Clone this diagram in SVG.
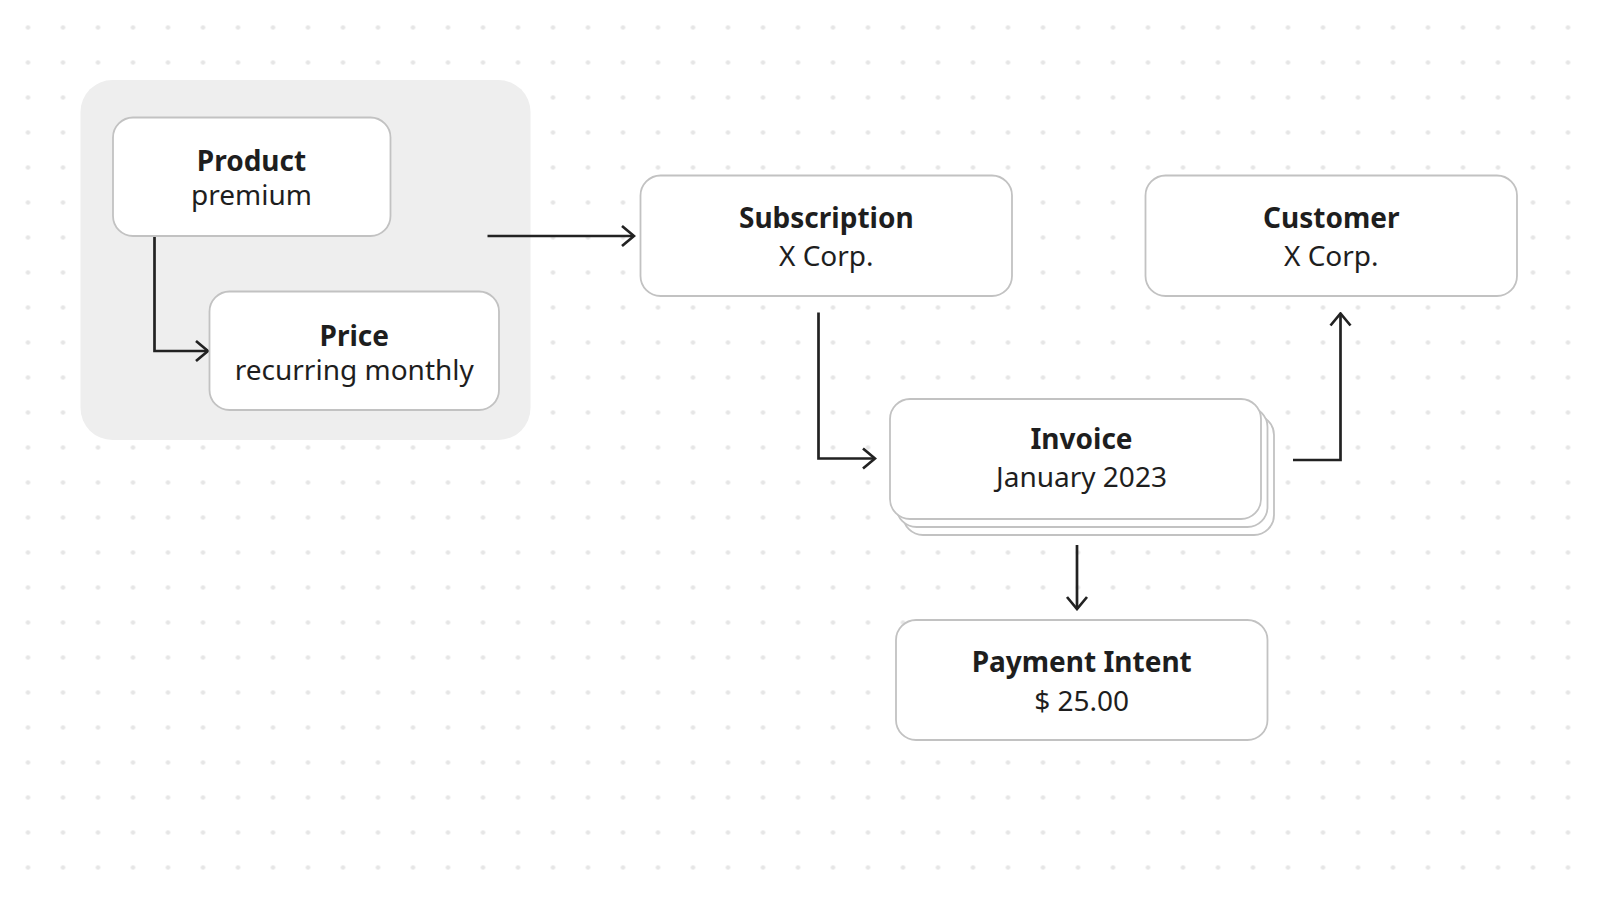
<svg xmlns="http://www.w3.org/2000/svg" width="1600" height="900" viewBox="0 0 1600 900">
  <defs>
    <pattern id="dots" patternUnits="userSpaceOnUse" x="10.5" y="10" width="35" height="35">
      <circle cx="17.5" cy="17.5" r="2.3" fill="#e6e6e6"/>
    </pattern>
    <marker id="arr" markerUnits="userSpaceOnUse" viewBox="-14 -12 16 24" refX="0" refY="0" markerWidth="16" markerHeight="24" orient="auto">
      <path d="M-12,-10 L0,0 L-12,10" fill="none" stroke="#222" stroke-width="2.7"/>
    </marker>
    <style>
      .box { fill: #ffffff; stroke: #c2c2c2; stroke-width: 1.8; }
      .t { font-family: "Noto Sans", "Liberation Sans", sans-serif; font-size: 28px; fill: #1e1e1e; text-anchor: middle; }
      .b { font-weight: 700; }
      .conn { fill: none; stroke: #222; stroke-width: 2.7; marker-end: url(#arr); }
    </style>
  </defs>
  <rect width="1600" height="900" fill="#ffffff"/>
  <rect width="1600" height="900" fill="url(#dots)"/>

  <g id="group-product-price">
    <rect x="80.5" y="80" width="450" height="360" rx="32" fill="#eeeeee"/>
  </g>

  <g id="connectors">
    <path class="conn" d="M154.5,236 V351 H208"/>
    <path class="conn" d="M487.5,236 H634"/>
    <path class="conn" d="M818.5,312.5 V458.5 H875"/>
    <path class="conn" d="M1077,545 V609"/>
    <path class="conn" d="M1293,460 H1340.5 V313.5"/>
  </g>

  <g id="product">
    <rect class="box" x="113" y="117.5" width="277.5" height="118.5" rx="20"/>
    <text class="t b" x="251.5" y="170.5">Product</text>
    <text class="t" x="251.5" y="205">premium</text>
  </g>

  <g id="price">
    <rect class="box" x="209.5" y="291.5" width="289.5" height="118.5" rx="20"/>
    <text class="t b" x="354.3" y="345.5">Price</text>
    <text class="t" x="354.3" y="380">recurring monthly</text>
  </g>

  <g id="subscription">
    <rect class="box" x="640.5" y="175.5" width="371.5" height="120.5" rx="20"/>
    <text class="t b" x="826.3" y="228.3">Subscription</text>
    <text class="t" x="826.3" y="266">X Corp.</text>
  </g>

  <g id="customer">
    <rect class="box" x="1145.5" y="175.5" width="371.5" height="120.5" rx="20"/>
    <text class="t b" x="1331.3" y="228.3">Customer</text>
    <text class="t" x="1331.3" y="266">X Corp.</text>
  </g>

  <g id="invoice">
    <rect class="box" x="903" y="415" width="371" height="120" rx="20"/>
    <rect class="box" x="896.5" y="407" width="371" height="120" rx="20"/>
    <rect class="box" x="890" y="399" width="371" height="120" rx="20"/>
    <text class="t b" x="1081.5" y="449">Invoice</text>
    <text class="t" x="1081.5" y="486.7">January 2023</text>
  </g>

  <g id="payment-intent">
    <rect class="box" x="896" y="620" width="371.5" height="120" rx="20"/>
    <text class="t b" x="1081.7" y="672.3">Payment Intent</text>
    <text class="t" x="1081.7" y="711">$ 25.00</text>
  </g>
</svg>
